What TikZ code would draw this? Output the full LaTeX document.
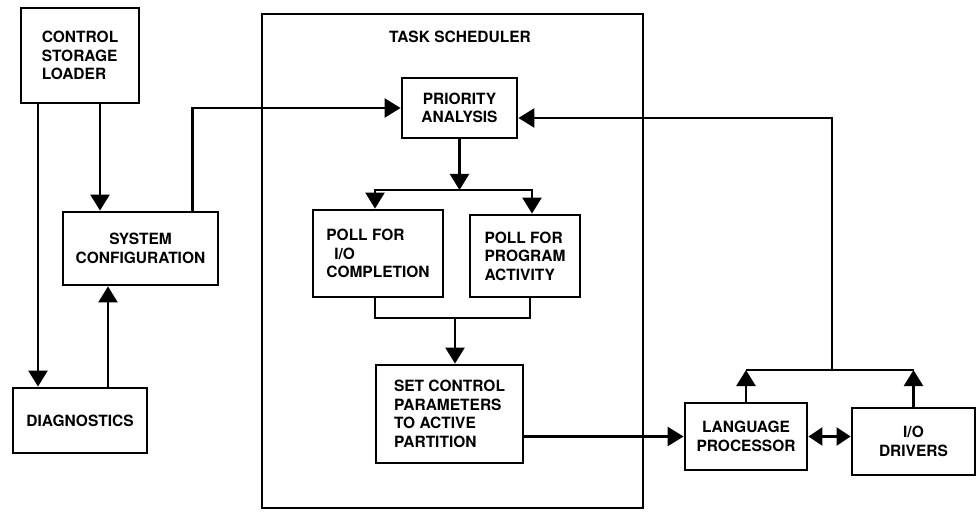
\documentclass[tikz,border=0pt]{standalone}
\usepackage{fontspec}
\setmainfont{TeX Gyre Heros}
\usetikzlibrary{arrows.meta,positioning,calc}
\tikzset{
    box/.style={draw, line width=2.8pt, font=\fontsize{15.5}{18.5}\selectfont\bfseries, align=center, inner sep=2pt},
    arr/.style={line width=2.4pt, -{Triangle[length=16pt,width=19pt]}},
    darr/.style={line width=2.4pt, {Triangle[length=14pt,width=18pt]}-{Triangle[length=14pt,width=18pt]}},
    link/.style={line width=2.4pt},
}
\begin{document}
\begin{tikzpicture}[x=1pt,y=-1pt]
    \useasboundingbox (0,0) rectangle (978,516);
    \node[box, minimum width=381pt, minimum height=494pt] (sched) at (452.5,261) {};
    \node[font=\fontsize{15.5}{18.5}\selectfont\bfseries] (title) at (460,37) {TASK SCHEDULER};

    \node[box, align=left, minimum width=118pt, minimum height=95pt] (loader) at (80,55.5) {CONTROL\\STORAGE\\LOADER};
    \node[box, minimum width=155pt, minimum height=73pt] (config) at (140.5,248.5) {SYSTEM\\CONFIGURATION};
    \node[box, minimum width=134pt, minimum height=65pt] (diag) at (80,420.5) {DIAGNOSTICS};

    \node[box, minimum width=115pt, minimum height=60pt] (prio) at (459.5,108) {PRIORITY\\ANALYSIS};
    \node[box, align=left, minimum width=130pt, minimum height=87pt] (pollio) at (378,253.5) {POLL FOR\\\hspace{8pt}I/O\\COMPLETION};
    \node[box, align=left, minimum width=110pt, minimum height=82pt] (pollprog) at (525,256) {POLL FOR\\PROGRAM\\ACTIVITY};
    \node[box, align=left, minimum width=147pt, minimum height=98pt] (setctrl) at (449.5,414) {SET CONTROL\\PARAMETERS\\TO ACTIVE\\PARTITION};

    \node[box, minimum width=122pt, minimum height=67pt] (lang) at (746,436.5) {LANGUAGE\\PROCESSOR};
    \node[box, minimum width=123pt, minimum height=67pt] (iodrv) at (913.5,441.5) {I/O\\DRIVERS};

    \coordinate (split) at (458,190);
    \coordinate (merge) at (455,318);
    \coordinate (join) at (832,370);

    \draw[arr] ([xshift=-42pt]loader.south) -- ([xshift=-42pt]loader.south |- diag.north);
    \draw[arr] ([xshift=20pt]loader.south) -- ([xshift=20pt]loader.south |- config.north);
    \draw[arr] ([xshift=28pt]diag.north) -- ([xshift=28pt]diag.north |- config.south);
    \draw[arr] ([xshift=52pt]config.north) |- (prio.west);

    \draw[arr] (prio.south) -- (prio.south |- split);
    \draw[arr] (split) -| ([xshift=-3pt]pollio.north);
    \draw[arr] (split) -| ([xshift=7pt]pollprog.north);
    \draw[link] ([xshift=-3pt]pollio.south) |- (merge) -| ([xshift=5pt]pollprog.south);
    \draw[arr] (merge) -- (merge |- setctrl.north);

    \draw[arr] (setctrl.east |- lang.west) -- (lang.west);
    \draw[darr] (lang.east) -- (lang.east -| iodrv.west);
    \draw[arr] (lang.north) -- (lang.north |- join);
    \draw[arr] (iodrv.north) -- (iodrv.north |- join);
    \draw[link] (lang.north |- join) -- (iodrv.north |- join);
    \draw[arr] (join) |- ([yshift=-10pt]prio.east);
\end{tikzpicture}
\end{document}
